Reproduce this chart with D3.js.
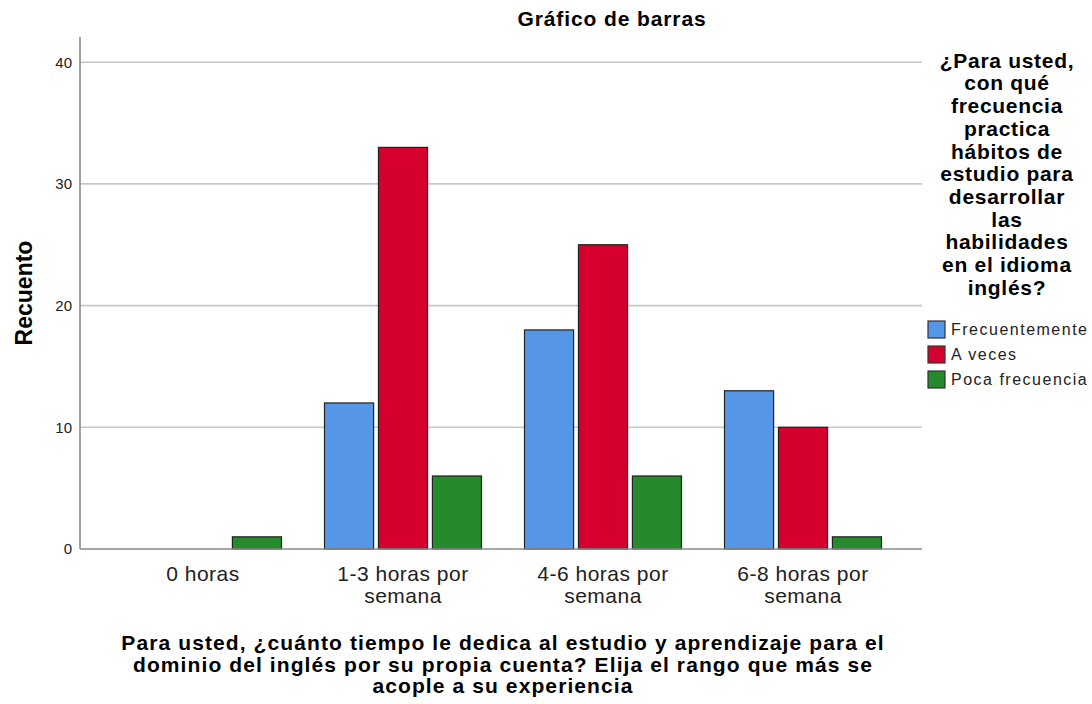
<!DOCTYPE html>
<html>
<head>
<meta charset="utf-8">
<script src="https://cdn.jsdelivr.net/npm/d3@7/dist/d3.min.js"></script>
<style>
body { margin: 0; background: #fff; }
svg text { font-family: "Liberation Sans", Arial, sans-serif; fill: #000; }
</style>
</head>
<body>
<div id="chart"></div>
<script>
//*************
// data
//*************
var categories = ["0 horas", "1-3 horas por semana", "4-6 horas por semana", "6-8 horas por semana"];
var categoryLines = [["0 horas"], ["1-3 horas por", "semana"], ["4-6 horas por", "semana"], ["6-8 horas por", "semana"]];
var series = ["Frecuentemente", "A veces", "Poca frecuencia"];
var frecuentemente = [0, 12, 18, 13];
var aVeces = [0, 33, 25, 10];
var pocaFrecuencia = [1, 6, 6, 1];
var yTicks = [0, 10, 20, 30, 40];
var seriesColors = ["#5596e6", "#d6002f", "#268a2c"];

var legendTitle = ["¿Para usted,", "con qué", "frecuencia", "practica", "hábitos de", "estudio para", "desarrollar", "las", "habilidades", "en el idioma", "inglés?"];
var xTitle = ["Para usted, ¿cuánto tiempo le dedica al estudio y aprendizaje para el",
	"dominio del inglés por su propia cuenta? Elija el rango que más se",
	"acople a su experiencia"];

var values = [frecuentemente, aVeces, pocaFrecuencia];

var W = 1092, H = 704;
var plot = {left: 80, right: 922, top: 37, bottom: 549};

var svg = d3.select("#chart").append("svg")
	.attr("width", W)
	.attr("height", H);

// scales
var y = d3.scaleLinear().domain([0, 42.07]).range([plot.bottom, plot.top]);

var x0 = d3.scaleBand()
	.domain(categories)
	.range([103, 903])
	.paddingInner(0.215)
	.paddingOuter(0.1075);

var x1 = d3.scaleBand()
	.domain(series)
	.range([0, x0.bandwidth()])
	.paddingInner(0.09);

// gridlines
svg.append("g").selectAll("line").data(yTicks.filter(function(d) { return d > 0; }))
	.enter().append("line")
	.attr("x1", plot.left).attr("x2", plot.right)
	.attr("y1", function(d) { return y(d); })
	.attr("y2", function(d) { return y(d); })
	.attr("stroke", "#c8c8c8")
	.attr("stroke-width", 1.6);

// y axis labels
var yAxis = svg.append("g")
	.attr("transform", "translate(" + plot.left + ",0)")
	.call(d3.axisLeft(y).tickValues(yTicks).tickSize(0).tickPadding(8));
yAxis.select(".domain").remove();
yAxis.selectAll("text")
	.attr("font-size", 15)
	.style("fill", "#222");

// bars
var rows = categories.map(function(c, i) {
	return series.map(function(s, j) { return {cat: c, ser: s, val: values[j][i], idx: j}; });
});

svg.append("g").selectAll("g").data(rows)
	.enter().append("g")
	.attr("transform", function(d) { return "translate(" + x0(d[0].cat) + ",0)"; })
	.selectAll("rect").data(function(d) { return d.filter(function(e) { return e.val > 0; }); })
	.enter().append("rect")
	.attr("x", function(d) { return x1(d.ser); })
	.attr("y", function(d) { return y(d.val); })
	.attr("width", x1.bandwidth())
	.attr("height", function(d) { return y(0) - y(d.val); })
	.attr("fill", function(d) { return seriesColors[d.idx]; })
	.attr("stroke", "#222")
	.attr("stroke-width", 1.2);

// axis lines
svg.append("line")
	.attr("x1", plot.left).attr("x2", plot.left)
	.attr("y1", plot.top).attr("y2", plot.bottom)
	.attr("stroke", "#8a8a8a").attr("stroke-width", 1.6);
svg.append("line")
	.attr("x1", plot.left).attr("x2", plot.right)
	.attr("y1", plot.bottom).attr("y2", plot.bottom)
	.attr("stroke", "#8a8a8a").attr("stroke-width", 1.6);

// category labels
var catText = svg.append("g").selectAll("text").data(categories)
	.enter().append("text")
	.attr("text-anchor", "middle")
	.attr("font-size", 21)
	.attr("letter-spacing", 0.5)
	.style("fill", "#222");
catText.selectAll("tspan").data(function(d, i) { return categoryLines[i]; })
	.enter().append("tspan")
	.attr("x", function() { return x0(d3.select(this.parentNode).datum()) + x0.bandwidth() / 2; })
	.attr("y", function(d, i) { return 581 + i * 22; })
	.text(function(d) { return d; });

// title
svg.append("text")
	.attr("x", 612).attr("y", 26)
	.attr("text-anchor", "middle")
	.attr("font-size", 21)
	.attr("font-weight", "bold")
	.attr("letter-spacing", 0.9)
	.text("Gráfico de barras");

// y title
svg.append("text")
	.attr("transform", "translate(32,293) rotate(-90)")
	.attr("text-anchor", "middle")
	.attr("font-size", 23)
	.attr("font-weight", "bold")
	.text("Recuento");

// x title
svg.append("g").selectAll("text").data(xTitle)
	.enter().append("text")
	.attr("x", 503)
	.attr("y", function(d, i) { return 650 + i * 21.5; })
	.attr("text-anchor", "middle")
	.attr("font-size", 21)
	.attr("font-weight", "bold")
	.attr("letter-spacing", 1.1)
	.text(function(d) { return d; });

// legend
svg.append("g").selectAll("text").data(legendTitle)
	.enter().append("text")
	.attr("x", 1007)
	.attr("y", function(d, i) { return 67.7 + i * 22.7; })
	.attr("text-anchor", "middle")
	.attr("font-size", 21)
	.attr("font-weight", "bold")
	.attr("letter-spacing", 0.7)
	.text(function(d) { return d; });

var items = svg.append("g").selectAll("g").data(series)
	.enter().append("g")
	.attr("transform", function(d, i) { return "translate(928," + (321 + i * 25) + ")"; });
items.append("rect")
	.attr("width", 17).attr("height", 17)
	.attr("fill", function(d, i) { return seriesColors[i]; })
	.attr("stroke", "#333").attr("stroke-width", 1.2);
items.append("text")
	.attr("x", 23).attr("y", 14)
	.attr("font-size", 16)
	.attr("letter-spacing", 1.5)
	.style("fill", "#222")
	.text(function(d) { return d; });
</script>
</body>
</html>
